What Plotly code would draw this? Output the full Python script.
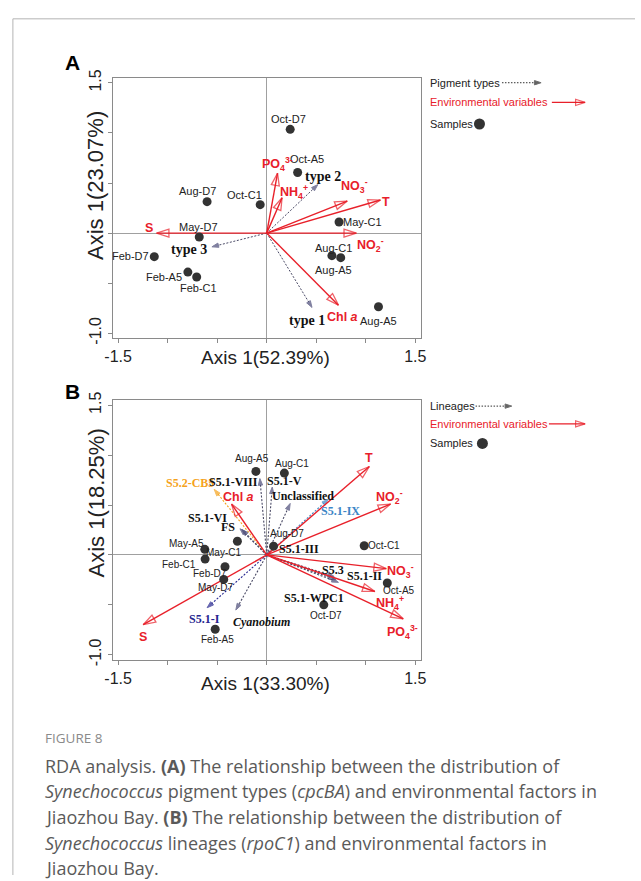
import plotly.graph_objects as go

W, H = 641, 881

# ---------------- Panel A data ----------------
a_samples = ["Oct-D7", "Oct-A5", "Aug-D7", "Oct-C1", "May-C1", "May-D7",
             "Feb-D7", "Aug-C1", "Aug-A5", "Feb-A5", "Feb-C1", "Aug-A5"]
a_sample_x = [0.237, 0.312, -0.602, -0.066, 0.730, -0.681, -1.135, 0.658, 0.747, -0.796, -0.707, 1.128]
a_sample_y = [1.036, 0.605, 0.314, 0.284, 0.111, -0.039, -0.235, -0.225, -0.245, -0.389, -0.438, -0.735]

a_env = ["S", "PO<sub>4</sub><sup>3-</sup>", "NH<sub>4</sub><sup>+</sup>", "NO<sub>3</sub><sup>-</sup>",
         "T", "NO<sub>2</sub><sup>-</sup>", "Chl <i>a</i>"]
a_env_x = [-1.112, 0.109, 0.155, 0.813, 1.148, 0.905, 0.724]
a_env_y = [0.0, 0.598, 0.353, 0.320, 0.330, 0.0, -0.719]

a_types = ["type 2", "type 3", "type 1"]
a_type_x = [0.516, -0.553, 0.457]
a_type_y = [0.484, -0.137, -0.742]

# ---------------- Panel B data ----------------
b_samples = ["Aug-A5", "Aug-C1", "Aug-D7", "Oct-C1", "May-A5", "May-C1",
             "Feb-C1", "Feb-D7", "May-D7", "Oct-A5", "Oct-D7", "Feb-A5"]
b_sample_x = [-0.109, 0.178, 0.069, 0.984, -0.625, -0.296, -0.622, -0.421, -0.434, 1.217, 0.576, -0.520]
b_sample_y = [0.837, 0.820, 0.088, 0.092, 0.056, 0.137, -0.042, -0.118, -0.245, -0.281, -0.500, -0.745]

b_env = ["T", "NO<sub>2</sub><sup>-</sup>", "NO<sub>3</sub><sup>-</sup>", "NH<sub>4</sub><sup>+</sup>",
         "PO<sub>4</sub><sup>3-</sup>", "S", "Chl <i>a</i>"]
b_env_x = [1.036, 1.250, 1.207, 1.092, 1.378, -1.247, -0.355]
b_env_y = [0.886, 0.510, -0.137, -0.366, -0.640, -0.699, 0.510]

b_lineages = ["S5.2-CB5", "S5.1-VIII", "S5.1-V", "Unclassified", "S5.1-IX", "S5.1-VI", "FS",
              "S5.1-III", "S5.3", "S5.1-II", "S5.1-WPC1", "S5.1-I", "<i>Cyanobium</i>"]
b_lin_x = [-0.530, -0.069, 0.056, 0.237, 0.622, -0.270, -0.250, 0.040, 0.681, 0.724, 0.697, -0.602, -0.312]
b_lin_y = [0.657, 0.765, 0.680, 0.516, 0.559, 0.262, 0.255, 0.040, -0.216, -0.275, -0.248, -0.529, -0.552]

x_ticks = [-1.5, 1.5]
x_ticktext = ["-1.5", "1.5"]
x_minor = [-1.0, -0.5, 0.0, 0.5, 1.0]
y_ticks = [-1.0, 1.5]
y_ticktext = ["-1.0", "1.5"]
y_minor = [-0.5, 0.0, 0.5, 1.0]

# ---------------- styles / label offsets (pixels) ----------------
RED = "#e8202a"
DOT = "#333333"
LIN = "#4a4a66"
HEAD = "#4b4b78"
SANS = "Arial, Liberation Sans, sans-serif"
SERIF = "Times New Roman, Liberation Serif, serif"

a_sample_off = [(-2, 10), (9, 13), (-10, 11), (-16, 10), (23, 0), (-1, 10),
                (-24, 1), (2, 8), (-7, -12), (-24, -5), (2, -11), (0, -14)]
a_env_off = [(-8, 5), (0, 9), (12, 6), (7, 15), (6, -2), (14, -12), (4, -12)]
a_type_off = [(5, 8), (-23, -3), (-5, -13)]

b_sample_off = [(-4, 13), (8, 10), (13, 13), (20, 0), (-18, 6), (-14, -11),
                (-26, -5), (-15, -7), (-8, -8), (12, -8), (2, -11), (2, -10)]
b_env_off = [(0, 8), (-1, 7), (14, -2), (15, -12), (-1, -13), (0, -12), (7, 7)]
b_lin_off = [(-24, 6), (-26, -3), (12, 6), (13, 7), (12, -12), (-32, 11), (-14, 2),
             (28, 2), (-1, 6), (26, 6), (-22, -18), (-3, -11), (26, -12)]
b_lin_colors = ["#f5a21b", LIN, LIN, LIN, "#3d86c6", LIN, LIN, LIN, LIN, LIN, LIN, "#262690", LIN]
b_lin_text_colors = ["#f5a21b", "#111", "#111", "#111", "#3d86c6", "#111", "#111",
                     "#111", "#111", "#111", "#111", "#262690", "#111"]

fig = go.Figure()


def arrow(x, y, xa, ya, color, dash, width, head, hsize, hcolor, hline):
    fig.add_trace(go.Scatter(
        x=[0, x], y=[0, y], xaxis=xa, yaxis=ya, mode="lines+markers",
        line=dict(color=color, width=width, dash=dash),
        marker=dict(symbol=["circle", head], size=[0, hsize], angleref="previous",
                    color=hcolor, line=dict(width=hline, color=hcolor)),
        hoverinfo="skip", showlegend=False))


annotations = []


def label(text, x, y, xa, ya, off, size, color, family, bold=False):
    annotations.append(dict(
        x=x, y=y, xref=xa, yref=ya, text=("<b>%s</b>" % text) if bold else text,
        showarrow=False, xshift=off[0], yshift=off[1],
        font=dict(size=size, color=color, family=family)))


# ----- Panel A -----
for x, y in zip(a_type_x, a_type_y):
    arrow(x, y, "x", "y", LIN, "2px,1.6px", 1, "arrow", 7, HEAD, 1)
for x, y in zip(a_env_x, a_env_y):
    arrow(x, y, "x", "y", RED, "solid", 1.4, "arrow-open", 13, RED, 1.3)
fig.add_trace(go.Scatter(x=a_sample_x, y=a_sample_y, xaxis="x", yaxis="y", mode="markers",
                         marker=dict(size=9, color=DOT), hoverinfo="skip", showlegend=False))
for t, x, y, o in zip(a_samples, a_sample_x, a_sample_y, a_sample_off):
    label(t, x, y, "x", "y", o, 11, "#222", SANS)
for t, x, y, o in zip(a_env, a_env_x, a_env_y, a_env_off):
    label(t, x, y, "x", "y", o, 12.5, RED, SANS, bold=True)
for t, x, y, o in zip(a_types, a_type_x, a_type_y, a_type_off):
    label(t, x, y, "x", "y", o, 14, "#111", SERIF, bold=True)

# ----- Panel B -----
for x, y, c in zip(b_lin_x, b_lin_y, b_lin_colors):
    arrow(x, y, "x2", "y2", c, "2px,1.6px", 1.1, "arrow", 7, c if c != LIN else HEAD, 1)
for x, y in zip(b_env_x, b_env_y):
    arrow(x, y, "x2", "y2", RED, "solid", 1.4, "arrow-open", 13, RED, 1.3)
fig.add_trace(go.Scatter(x=b_sample_x, y=b_sample_y, xaxis="x2", yaxis="y2", mode="markers",
                         marker=dict(size=9, color=DOT), hoverinfo="skip", showlegend=False))
for t, x, y, o in zip(b_samples, b_sample_x, b_sample_y, b_sample_off):
    label(t, x, y, "x2", "y2", o, 10, "#222", SANS)
for t, x, y, o in zip(b_env, b_env_x, b_env_y, b_env_off):
    label(t, x, y, "x2", "y2", o, 12.5, RED, SANS, bold=True)
for t, x, y, o, c in zip(b_lineages, b_lin_x, b_lin_y, b_lin_off, b_lin_text_colors):
    label(t, x, y, "x2", "y2", o, 12, c, SERIF, bold=True)

# ----- legend keys (pixel overlay axis) -----
leg_key_x = {"A": (505, 545, 75), "B": (478, 515, 404)}
env_key = {"A": (556, 590, 95), "B": (553, 590, 422)}
dot_key = {"A": (482, 117), "B": (485, 442)}
for k in ["A", "B"]:
    x0, x1, yy = leg_key_x[k]
    fig.add_trace(go.Scatter(x=[x0, x1], y=[yy, yy], xaxis="x3", yaxis="y3", mode="lines+markers",
                             line=dict(color="#333", width=1, dash="1.5px,1.5px"),
                             marker=dict(symbol=["circle", "arrow"], size=[0, 7], angleref="previous",
                                         color="#222"), hoverinfo="skip", showlegend=False))
    x0, x1, yy = env_key[k]
    fig.add_trace(go.Scatter(x=[x0, x1], y=[yy, yy], xaxis="x3", yaxis="y3", mode="lines+markers",
                             line=dict(color=RED, width=1.3),
                             marker=dict(symbol=["circle", "arrow-open"], size=[0, 10], angleref="previous",
                                         color=RED, line=dict(width=1.2, color=RED)),
                             hoverinfo="skip", showlegend=False))
    dx, dy = dot_key[k]
    fig.add_trace(go.Scatter(x=[dx], y=[dy], xaxis="x3", yaxis="y3", mode="markers",
                             marker=dict(size=11, color=DOT), hoverinfo="skip", showlegend=False))


def px(x, y):
    return x / W, 1 - y / H


def ptext(text, x, y, size, color, family=SANS, xanchor="left", angle=0):
    X, Y = px(x, y)
    annotations.append(dict(x=X, y=Y, xref="paper", yref="paper", text=text, showarrow=False,
                            xanchor=xanchor, yanchor="middle", textangle=angle,
                            font=dict(size=size, color=color, family=family)))


# legend texts
ptext("Pigment types", 429, 75, 11, "#222")
ptext("Environmental variables", 429, 95, 11, RED)
ptext("Samples", 429, 117, 11, "#222")
ptext("Lineages", 429, 404, 11, "#222")
ptext("Environmental variables", 429, 422, 11, RED)
ptext("Samples", 429, 442, 11, "#222")

# panel letters
ptext("<b>A</b>", 56, 54, 21, "#000")
ptext("<b>B</b>", 56, 389, 21, "#000")

# axis titles
ptext("Axis 1(52.39%)", 263, 355, 19, "#222", xanchor="center")
ptext("Axis 1(23.07%)", 90, 180, 22, "#222", xanchor="center", angle=-90)
ptext("Axis 1(33.30%)", 263, 686, 19, "#222", xanchor="center")
ptext("Axis 1(18.25%)", 90, 503, 22, "#222", xanchor="center", angle=-90)

# caption
CAP = "Open Sans, Noto Sans, sans-serif"
ptext("FIGURE 8", 36, 742, 13.5, "#8a8a8a", CAP)
cap_lines = [
    "RDA analysis. <b>(A)</b> The relationship between the distribution of",
    "<i>Synechococcus</i> pigment types (<i>cpcBA</i>) and environmental factors in",
    "Jiaozhou Bay. <b>(B)</b> The relationship between the distribution of",
    "<i>Synechococcus</i> lineages (<i>rpoC1</i>) and environmental factors in",
    "Jiaozhou Bay.",
]
for i, line in enumerate(cap_lines):
    ptext(line, 36, 770 + 26 * i, 18, "#5a5a5a", CAP)

axis_common = dict(range=[-1.555, 1.555], showgrid=False, zeroline=True, zerolinecolor="#a0a0a0",
                   zerolinewidth=1, showline=True, mirror=True, linecolor="#8a8a8a", linewidth=1,
                   ticks="outside", ticklen=4, tickcolor="#8a8a8a", tickmode="array",
                   tickvals=x_ticks, ticktext=x_ticktext,
                   minor=dict(tickmode="array", tickvals=x_minor, ticks="outside", ticklen=4,
                              tickcolor="#8a8a8a", showgrid=False),
                   tickfont=dict(size=16, color="#222", family=SANS))
yaxis_common = dict(range=[-1.05, 1.55], showgrid=False, zeroline=True, zerolinecolor="#a0a0a0",
                    zerolinewidth=1, showline=True, mirror=True, linecolor="#8a8a8a", linewidth=1,
                    ticks="outside", ticklen=4, tickcolor="#8a8a8a", tickmode="array",
                    tickvals=y_ticks, ticktext=y_ticktext,
                    minor=dict(tickmode="array", tickvals=y_minor, ticks="outside", ticklen=4,
                               tickcolor="#8a8a8a", showgrid=False),
                    tickangle=-90, tickfont=dict(size=16, color="#222", family=SANS))

fig.update_layout(
    width=W, height=H, margin=dict(l=0, r=0, t=0, b=0),
    paper_bgcolor="white", plot_bgcolor="rgba(0,0,0,0)", showlegend=False,
    xaxis=dict(domain=[107 / W, 422 / W], anchor="y", **axis_common),
    yaxis=dict(domain=[1 - 335 / H, 1 - 70 / H], anchor="x", **yaxis_common),
    xaxis2=dict(domain=[107 / W, 422 / W], anchor="y2", **axis_common),
    yaxis2=dict(domain=[1 - 662 / H, 1 - 398 / H], anchor="x2", **yaxis_common),
    xaxis3=dict(domain=[0, 1], range=[0, W], visible=False, anchor="y3", fixedrange=True),
    yaxis3=dict(domain=[0, 1], range=[H, 0], visible=False, anchor="x3", fixedrange=True),
    annotations=annotations,
    shapes=[
        dict(type="line", xref="paper", yref="paper", x0=5 / W, x1=5 / W, y0=0, y1=1 - 10 / H,
             line=dict(color="#b4b4b4", width=1)),
        dict(type="line", xref="paper", yref="paper", x0=5 / W, x1=1, y0=1 - 10 / H, y1=1 - 10 / H,
             line=dict(color="#b4b4b4", width=1)),
    ],
)

fig.write_html("out.html")
